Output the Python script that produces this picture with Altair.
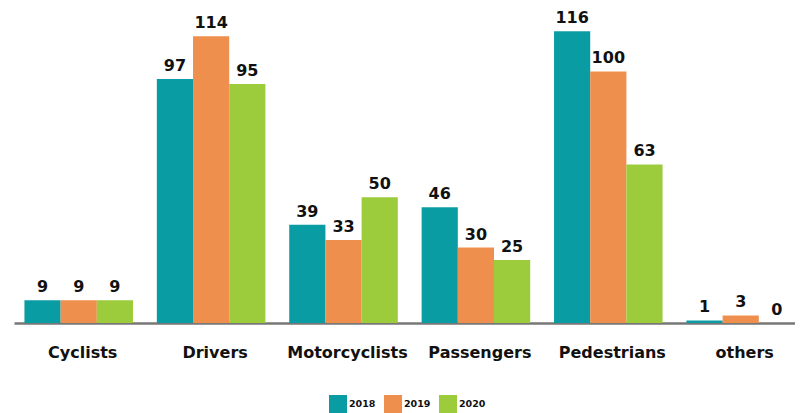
import altair as alt
import pandas as pd

categories = ["Cyclists", "Drivers", "Motorcyclists", "Passengers", "Pedestrians", "others"]
years = ["2018", "2019", "2020"]
values_2018 = [9, 97, 39, 46, 116, 1]
values_2019 = [9, 114, 33, 30, 100, 3]
values_2020 = [9, 95, 50, 25, 63, 0]
colors = ["#0a9ca3", "#ef8f4e", "#9ccb3c"]

rows = []
for yr, vals in zip(years, [values_2018, values_2019, values_2020]):
    for c, v in zip(categories, vals):
        rows.append({"category": c, "year": yr, "value": v})
df = pd.DataFrame(rows)

FONT = "DejaVu Sans"

base = alt.Chart(df).encode(
    x=alt.X("category:N", sort=categories, title=None,
            scale=alt.Scale(paddingInner=0.18, paddingOuter=0.0394, align=1),
            axis=alt.Axis(labelAngle=0, ticks=False, domainColor="#777777", domainWidth=2.5,
                          labelFont=FONT, labelFontSize=16, labelFontWeight="bold",
                          labelColor="#111111", labelPadding=21, labelOffset=4)),
    xOffset=alt.XOffset("year:N", sort=years, scale=alt.Scale(paddingInner=0, paddingOuter=0)),
)

bars = base.mark_bar().encode(
    y=alt.Y("value:Q", scale=alt.Scale(domain=[0, 124], nice=False), axis=None),
    color=alt.Color("year:N", sort=years, scale=alt.Scale(domain=years, range=colors),
                    legend=alt.Legend(title=None, orient="none", direction="horizontal",
                                      legendX=315, legendY=384,
                                      symbolType="square", symbolSize=324, symbolStrokeWidth=0,
                                      labelFont=FONT, labelFontSize=9.5, labelFontWeight="bold",
                                      labelColor="#111111", labelOffset=2, columnPadding=8)),
)

labels = base.mark_text(baseline="bottom", dy=-5, font=FONT, fontSize=16,
                        fontWeight="bold", color="#111111").encode(
    y=alt.Y("value:Q", scale=alt.Scale(domain=[0, 124], nice=False), axis=None),
    text=alt.Text("value:Q"),
)

chart = (bars + labels).properties(
    width=781, height=312,
    padding={"left": 6, "right": 0, "top": 2, "bottom": 0},
).configure_view(stroke=None).configure_axis(grid=False)

chart.save("out.html", embed_options={"renderer": "svg", "actions": False})
